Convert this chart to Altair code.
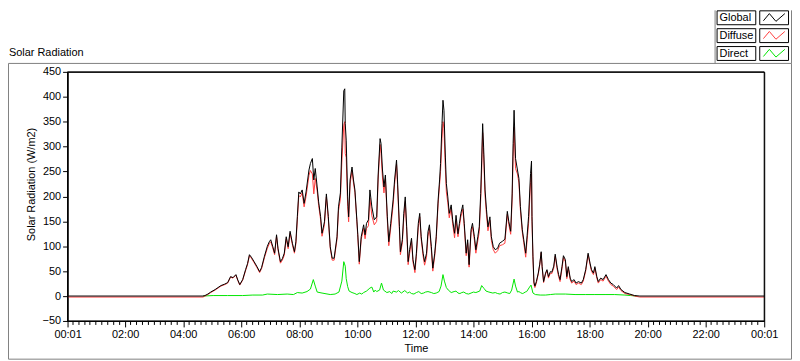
import math
import altair as alt
import pandas as pd

# ---------------- data ----------------
global_times = [
    "00:01", "04:41", "04:45", "04:51", "04:57", "05:06", "05:12", "05:18", "05:26", "05:32",
    "05:38", "05:43", "05:49", "05:53", "05:57", "06:03", "06:09", "06:13", "06:17", "06:21",
    "06:26", "06:32", "06:38", "06:42", "06:48", "06:54", "06:58", "07:01", "07:05", "07:09",
    "07:13", "07:16", "07:21", "07:25", "07:29", "07:33", "07:37", "07:41", "07:46", "07:50",
    "07:53", "07:56", "07:59", "08:02", "08:06", "08:10", "08:14", "08:20", "08:23", "08:27",
    "08:30", "08:33", "08:37", "08:40", "08:44", "08:47", "08:52", "08:56", "09:00", "09:04",
    "09:08", "09:12", "09:18", "09:21", "09:25", "09:28", "09:32", "09:34", "09:35", "09:37",
    "09:40", "09:42", "09:45", "09:49", "09:52", "09:55", "09:59", "10:01", "10:04", "10:08",
    "10:13", "10:16", "10:19", "10:23", "10:26", "10:30", "10:35", "10:40", "10:43", "10:47",
    "10:49", "10:52", "10:55", "10:58", "11:02", "11:05", "11:09", "11:14", "11:17", "11:21",
    "11:23", "11:27", "11:29", "11:33", "11:36", "11:39", "11:42", "11:45", "11:48", "11:52",
    "11:55", "11:59", "12:02", "12:06", "12:09", "12:12", "12:16", "12:19", "12:23", "12:26",
    "12:29", "12:33", "12:36", "12:40", "12:43", "12:47", "12:50", "12:52", "12:55", "12:57",
    "12:59", "13:02", "13:04", "13:07", "13:10", "13:14", "13:17", "13:21", "13:24", "13:28",
    "13:31", "13:34", "13:38", "13:41", "13:45", "13:48", "13:51", "13:55", "13:58", "14:02",
    "14:05", "14:09", "14:12", "14:15", "14:17", "14:19", "14:21", "14:24", "14:27", "14:30",
    "14:34", "14:37", "14:41", "14:45", "14:50", "14:54", "15:00", "15:05", "15:10", "15:13",
    "15:17", "15:20", "15:22", "15:24", "15:27", "15:31", "15:34", "15:37", "15:41", "15:44",
    "15:48", "15:51", "15:54", "15:58", "16:00", "16:01", "16:03", "16:05", "16:07", "16:10",
    "16:14", "16:17", "16:20", "16:22", "16:25", "16:29", "16:32", "16:35", "16:39", "16:42",
    "16:46", "16:49", "16:53", "16:56", "16:59", "17:03", "17:06", "17:10", "17:13", "17:16",
    "17:20", "17:23", "17:28", "17:32", "17:37", "17:43", "17:47", "17:52", "17:57", "18:01",
    "18:04", "18:08", "18:11", "18:15", "18:18", "18:23", "18:28", "18:34", "18:39", "18:44",
    "18:49", "18:56", "19:00", "19:05", "19:13", "19:23", "19:33", "19:44", "24:01",
]
global_values = [
    0, 0, 1, 4, 8, 13, 17, 21, 24, 27,
    39, 37, 43, 32, 23, 33, 53, 65, 83, 78,
    70, 60, 49, 57, 80, 100, 109, 113, 100, 86,
    123, 96, 69, 75, 86, 119, 99, 130, 105, 89,
    109, 160, 209, 205, 213, 186, 209, 253, 266, 276,
    233, 256, 219, 189, 160, 126, 149, 205, 160, 99,
    76, 76, 119, 179, 207, 299, 412, 416, 346, 313,
    199, 159, 233, 259, 233, 213, 153, 123, 69, 119,
    143, 123, 146, 153, 213, 179, 153, 159, 243, 316,
    306, 253, 219, 243, 159, 109, 146, 193, 233, 273,
    233, 139, 89, 113, 166, 199, 139, 69, 93, 116,
    73, 53, 86, 146, 166, 119, 86, 69, 86, 129,
    143, 99, 56, 86, 119, 193, 233, 266, 346, 393,
    373, 279, 226, 199, 166, 183, 153, 126, 162, 125,
    146, 166, 183, 146, 86, 113, 63, 133, 146, 119,
    93, 119, 139, 206, 273, 346, 299, 213, 173, 139,
    159, 119, 99, 93, 96, 106, 110, 114, 170, 150,
    130, 205, 306, 373, 276, 253, 236, 180, 133, 113,
    86, 122, 160, 246, 271, 160, 80, 28, 20, 29,
    46, 64, 89, 59, 29, 46, 53, 39, 49, 48,
    60, 84, 58, 43, 33, 59, 81, 73, 39, 59,
    36, 29, 33, 26, 29, 26, 33, 53, 86, 66,
    53, 46, 59, 39, 29, 36, 33, 43, 33, 26,
    23, 16, 21, 13, 7, 4, 1, 0, 0,
]
diffuse_values = [
    -2, -2, 0, 3, 7, 12, 16, 20, 23, 26,
    38, 36, 42, 31, 22, 32, 51, 63, 81, 76,
    68, 58, 47, 55, 77, 96, 105, 109, 97, 83,
    120, 93, 66, 72, 82, 115, 95, 126, 102, 86,
    105, 153, 202, 199, 207, 179, 200, 242, 252, 245,
    205, 236, 211, 182, 154, 120, 143, 199, 155, 96,
    72, 72, 114, 171, 195, 269, 343, 350, 286, 278,
    180, 149, 225, 252, 227, 208, 150, 118, 64, 114,
    136, 115, 136, 141, 197, 161, 143, 150, 233, 304,
    286, 237, 207, 235, 152, 101, 137, 183, 224, 265,
    224, 131, 83, 107, 156, 190, 133, 63, 85, 111,
    68, 47, 79, 138, 159, 114, 80, 62, 78, 120,
    135, 92, 50, 81, 113, 185, 224, 250, 316, 350,
    337, 254, 209, 187, 157, 176, 145, 117, 152, 119,
    140, 159, 175, 139, 81, 107, 58, 127, 139, 112,
    86, 111, 129, 193, 252, 328, 284, 201, 163, 131,
    152, 112, 93, 86, 91, 101, 103, 106, 164, 144,
    124, 193, 280, 339, 256, 245, 227, 173, 128, 107,
    78, 113, 146, 228, 249, 150, 74, 24, 17, 26,
    44, 62, 87, 57, 27, 44, 51, 36, 46, 45,
    56, 80, 54, 39, 29, 55, 77, 69, 35, 56,
    33, 26, 30, 23, 26, 23, 30, 50, 83, 63,
    50, 43, 56, 36, 26, 33, 30, 40, 30, 23,
    20, 13, 18, 11, 5, 3, 0, -2, -2,
]
direct_times = [
    "04:41", "05:02", "05:32", "06:03", "06:24", "06:44", "06:54", "07:15", "07:35", "07:48",
    "07:56", "08:06", "08:16", "08:23", "08:29", "08:33", "08:37", "08:47", "09:04", "09:14",
    "09:22", "09:28", "09:32", "09:35", "09:37", "09:40", "09:43", "09:49", "09:55", "09:59",
    "10:05", "10:09", "10:13", "10:19", "10:26", "10:30", "10:34", "10:37", "10:40", "10:46",
    "10:50", "10:54", "11:01", "11:07", "11:11", "11:14", "11:21", "11:25", "11:31", "11:38",
    "11:44", "11:48", "11:52", "11:57", "12:02", "12:07", "12:12", "12:17", "12:21", "12:26",
    "12:33", "12:38", "12:43", "12:49", "12:53", "12:57", "13:00", "13:04", "13:08", "13:14",
    "13:20", "13:24", "13:28", "13:32", "13:36", "13:40", "13:45", "13:50", "13:55", "14:00",
    "14:05", "14:13", "14:17", "14:22", "14:26", "14:32", "14:40", "14:45", "14:50", "14:55",
    "15:00", "15:05", "15:11", "15:15", "15:19", "15:24", "15:27", "15:31", "15:34", "15:37",
    "15:41", "15:44", "15:47", "15:50", "15:56", "15:59", "16:03", "16:08", "16:18", "16:29",
    "16:39", "16:49", "17:10", "17:30", "17:51", "18:11", "18:32", "18:52", "19:13", "19:25",
    "19:37",
]
direct_values = [
    0, 1, 1, 1, 2, 2, 4, 3, 4, 3,
    7, 6, 9, 14, 33, 20, 8, 6, 3, 4,
    8, 30, 69, 60, 35, 19, 10, 7, 5, 3,
    6, 4, 7, 10, 16, 18, 8, 12, 9, 12,
    26, 12, 7, 9, 5, 10, 8, 11, 6, 11,
    6, 8, 5, 4, 7, 9, 5, 6, 8, 9,
    7, 5, 6, 9, 20, 43, 30, 17, 12, 7,
    9, 10, 6, 5, 7, 8, 5, 4, 6, 8,
    7, 10, 21, 15, 10, 8, 6, 7, 5, 4,
    7, 8, 6, 5, 12, 34, 20, 8, 9, 7,
    5, 6, 8, 9, 18, 22, 6, 3, 2, 2,
    3, 4, 4, 3, 3, 3, 3, 3, 2, 1,
    0,
]
series_names = ["Global", "Diffuse", "Direct"]
series_colors = ["#000000", "#ff4040", "#00e600"]
y_ticks = [-50, 0, 50, 100, 150, 200, 250, 300, 350, 400, 450]
x_major = ["00:01", "02:00", "04:00", "06:00", "08:00", "10:00", "12:00",
           "14:00", "16:00", "18:00", "20:00", "22:00", "24:01"]
chart_title = "Solar Radiation"
y_title = "Solar Radiation (W/m2)"
x_title = "Time"

# ---------------- helpers ----------------
def to_hours(s):
    h, m = s.split(":")
    return int(h) + int(m) / 60.0

FONT = "Liberation Sans"
GRAY = "#808080"
W, H = 702, 251

g_df = pd.DataFrame({"h": [to_hours(t) for t in global_times], "v": global_values})
d_df = pd.DataFrame({"h": [to_hours(t) for t in global_times], "v": diffuse_values})
r_df = pd.DataFrame({"h": [to_hours(t) for t in direct_times], "v": direct_values})

major_h = [to_hours(t) for t in x_major]
x0, x1 = major_h[0], major_h[-1]
PX_PER_H = W / (x1 - x0)
# minor ticks every 12 minutes, nudged onto pixel centres so they render crisp
minor_h = []
for k in range(1, 120):
    if k % 10 == 0:
        continue
    px = (k * 0.2 - x0) * PX_PER_H
    minor_h.append((math.floor(px) + 0.5) / PX_PER_H + x0)
minor_df = pd.DataFrame({"h": minor_h})

xscale = alt.Scale(domain=[x0, x1], nice=False, zero=False)
yscale = alt.Scale(domain=[-50, 450], nice=False, zero=False)

yaxis = alt.Axis(values=y_ticks, title=y_title, grid=False, tickSize=5, labelPadding=2,
                 titleX=-31, titleY=113, titleAngle=270, titleBaseline="bottom",
                 titleAlign="center", zindex=1)
xaxis = alt.Axis(values=major_h, title=x_title, grid=False, tickSize=6, labelPadding=2,
                 labelFlush=False, labelOverlap=False, orient="bottom", titlePadding=3,
                 zindex=1,
                 labelExpr="(datum.value < 0.1 || datum.value > 23.9) ? '00:01' : "
                           "format(datum.value, '02d') + ':00'")

direct = alt.Chart(r_df).mark_line(color=series_colors[2], strokeWidth=1).encode(
    x=alt.X("h:Q", scale=xscale, axis=xaxis),
    y=alt.Y("v:Q", scale=yscale, axis=yaxis))
diffuse = alt.Chart(d_df).mark_line(color=series_colors[1], strokeWidth=1).encode(
    x=alt.X("h:Q", scale=xscale, axis=xaxis),
    y=alt.Y("v:Q", scale=yscale, axis=yaxis))
glob = alt.Chart(g_df).mark_line(color=series_colors[0], strokeWidth=1).encode(
    x=alt.X("h:Q", scale=xscale, axis=xaxis),
    y=alt.Y("v:Q", scale=yscale, axis=yaxis))

# minor ticks below the plot area, positioned by the x scale
minor_ticks = alt.Chart(minor_df).mark_rule(color="black", strokeWidth=1).encode(
    x=alt.X("h:Q", scale=xscale, axis=xaxis),
    y=alt.value(H), y2=alt.value(H + 4))

# ---------------- decorations (frame, title, legend) ----------------
one = pd.DataFrame({"k": [0]})
base = alt.Chart(one)
frame = base.mark_rect(fillOpacity=0, stroke=GRAY, strokeWidth=1).encode(
    x=alt.value(-59.5), x2=alt.value(729.5), y=alt.value(-8.5), y2=alt.value(289.5))
plot_box = base.mark_rect(fillOpacity=0, stroke="black", strokeWidth=1).encode(
    x=alt.value(0), x2=alt.value(W), y=alt.value(0), y2=alt.value(H))
panel_left = base.mark_rule(color=GRAY, strokeWidth=1).encode(
    x=alt.value(652.5), y=alt.value(-62), y2=alt.value(-8.5))
panel_right = base.mark_rule(color=GRAY, strokeWidth=1).encode(
    x=alt.value(729.5), y=alt.value(-62), y2=alt.value(-8.5))
title_txt = base.mark_text(align="left", baseline="middle", font=FONT, fontSize=11,
                           color="black").encode(
    x=alt.value(-59), y=alt.value(-19), text=alt.value(chart_title))

ZIG = "M-0.9,0.25 L-0.4,-0.35 L0.15,0.3 L0.9,-0.35"
legend_layers = []
for i, (name, col) in enumerate(zip(series_names, series_colors)):
    top = -62 + i * 18
    legend_layers.append(base.mark_rect(fill="white", stroke="black", strokeWidth=1).encode(
        x=alt.value(654.5), x2=alt.value(693.5), y=alt.value(top + 0.5), y2=alt.value(top + 14.5)))
    legend_layers.append(base.mark_text(align="left", baseline="middle", font=FONT,
                                        fontSize=11, color="black").encode(
        x=alt.value(657), y=alt.value(top + 8), text=alt.value(name)))
    legend_layers.append(base.mark_rect(fill="white", stroke="black", strokeWidth=1).encode(
        x=alt.value(697.5), x2=alt.value(726.5), y=alt.value(top + 0.5), y2=alt.value(top + 14.5)))
    legend_layers.append(base.mark_point(shape=ZIG, filled=False, stroke=col, strokeWidth=1,
                                         size=576, opacity=1).encode(
        x=alt.value(712), y=alt.value(top + 7.5)))

chart = alt.layer(
    frame, panel_left, panel_right, title_txt, *legend_layers, minor_ticks,
    direct, diffuse, glob, plot_box
).properties(
    width=W, height=H, padding=0
).configure_view(
    stroke="black", strokeWidth=1
).configure_axis(
    labelFont=FONT, labelFontSize=11, labelColor="black",
    titleFont=FONT, titleFontSize=11, titleFontWeight="normal", titleColor="black",
    domainColor="black", tickColor="black"
)

chart.save("out.html", embed_options={"renderer": "svg", "actions": False})
